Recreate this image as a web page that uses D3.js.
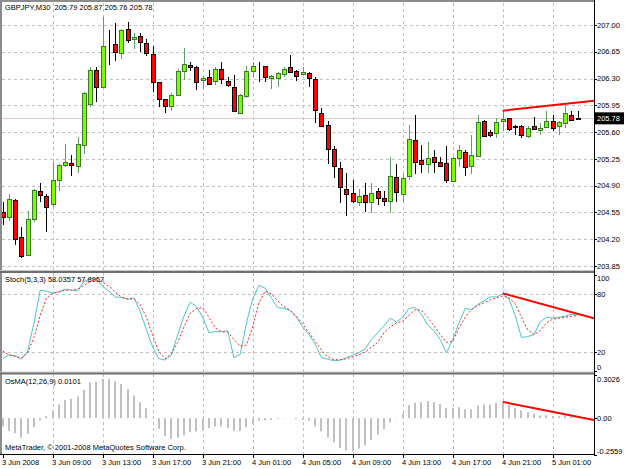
<!DOCTYPE html>
<html>
<head>
<meta charset="utf-8">
<script src="https://cdn.jsdelivr.net/npm/d3@7"></script>
<style>
body { margin: 0; background: #fff; }
svg { display: block; font-family: 'Liberation Sans', Arial, sans-serif; }
.grid { stroke: #c4c0c0; stroke-dasharray: 3,3; shape-rendering: crispEdges; }
.lbl { font-size: 7.5px; fill: #000; }
</style>
</head>
<body>
<div id="chart"></div>
<script>
'use strict';
// M30 bars, 3 Jun 2008 05:00 .. 5 Jun 2008 03:00
const barOpen = [204.56,204.49,204.71,204.23,204.00,204.46,204.83,204.77,204.66,204.98,205.17,205.20,205.15,205.43,205.97,206.41,206.19,206.70,206.75,206.64,206.95,206.82,206.86,206.77,206.62,206.25,206.03,205.95,206.09,206.40,206.48,206.45,206.28,206.32,206.26,206.42,206.27,206.19,205.85,206.07,206.40,206.45,206.46,206.30,206.31,206.37,206.45,206.40,206.36,206.37,206.29,205.85,205.69,205.38,205.13,204.86,204.81,204.69,204.78,204.69,204.83,204.74,204.70,205.01,204.79,205.03,205.50,205.24,205.18,205.27,205.21,205.19,204.96,205.25,205.34,205.15,205.29,205.75,205.60,205.58,205.74,205.78,205.67,205.68,205.56,205.68,205.64,205.66,205.75,205.68,205.72,205.83,205.79]
const barHigh = [204.69,204.79,204.73,204.36,204.57,204.85,204.94,204.79,205.21,205.18,205.45,205.30,205.54,206.12,206.45,206.45,207.10,206.94,207.02,206.95,207.04,206.89,206.89,206.82,206.72,206.25,206.03,206.11,206.42,206.70,206.51,206.46,206.33,206.41,206.45,206.51,206.32,206.35,206.10,206.46,206.52,206.51,206.46,206.35,206.39,206.45,206.61,206.41,206.45,206.38,206.32,205.92,205.74,205.42,205.21,205.07,204.98,204.85,204.93,204.93,204.87,204.83,205.27,205.18,205.05,205.69,205.82,205.43,205.47,205.36,205.27,205.42,205.28,205.43,205.37,205.56,205.82,205.76,205.63,205.78,205.89,205.79,205.69,205.69,205.68,205.80,205.72,205.88,205.82,205.74,205.95,205.88,205.87]
const barLow = [204.39,204.44,204.13,203.96,203.98,204.43,204.69,204.30,204.62,204.83,205.15,205.02,205.07,205.32,205.93,206.00,206.18,206.48,206.53,206.56,206.77,206.68,206.65,206.60,206.13,205.93,205.85,205.87,206.07,206.28,206.40,206.15,206.17,206.22,206.22,206.23,206.19,205.87,205.84,206.04,206.32,206.26,206.26,206.16,206.19,206.32,206.37,206.27,206.35,206.19,205.72,205.67,205.18,205.00,204.67,204.50,204.67,204.63,204.55,204.54,204.65,204.64,204.54,204.69,204.68,204.97,205.05,205.07,205.07,205.07,205.15,204.93,204.95,205.15,205.03,205.05,205.27,205.53,205.53,205.52,205.61,205.62,205.56,205.52,205.52,205.64,205.56,205.65,205.61,205.56,205.65,205.77,205.76]
const barClose = [204.50,204.72,204.20,203.98,204.47,204.84,204.78,204.63,204.97,205.17,205.21,205.17,205.44,206.11,206.41,206.19,206.73,206.70,206.65,206.94,206.81,206.84,206.78,206.64,206.26,206.03,205.94,206.09,206.40,206.49,206.45,206.26,206.31,206.23,206.42,206.29,206.22,205.88,206.08,206.40,206.47,206.45,206.32,206.33,206.37,206.43,206.39,206.34,206.38,206.30,205.88,205.68,205.38,205.16,204.88,204.80,204.70,204.77,204.69,204.81,204.74,204.70,205.03,204.82,205.00,205.51,205.21,205.19,205.26,205.20,205.16,204.97,205.26,205.36,205.15,205.30,205.73,205.56,205.56,205.73,205.77,205.63,205.68,205.56,205.66,205.64,205.66,205.74,205.66,205.73,205.85,205.77,205.78]
const stochMain = [13,17,16,12.5,21,50,84,83,81,82.5,85,84,83,93,96,95.5,88,83,77,76.5,74.5,76,62,43,25,13,11.7,17,38,57,71.5,67,56,40,41,41,42,14,17.6,50,75,89,86,76,66,65,63,56,46,38,28,14,12.5,11,11.5,14,16.5,19.5,23,33,40,47,55,51,56,65,66,59,48,42,33,19,33,50,65,64,69,73,77,77,80,75,58,35,36,38,51,56,55,56,57,59,58.0357]
const stochSignal = [21,17,15.5,14,19,35,58,76,80.5,82,84,84,85,89,93,94.5,92,88,82,77,75,75,69,56,37,20,13,18,30,46,60,65,66,56,45,41,40.5,33,26,27,46,71,83,80,73,67,63,57,49,40,31,22,15,12,12,13,15,17,20,25,30,40,46,50,52,58,64,63,56,47,38,30,31,45,56,64,68,71,74,76,78,76,70,56,43,38,42,50,54,55,56,57,57.8957]
const osmaValues = [-0.058,-0.091,-0.105,-0.137,-0.11,-0.063,-0.016,0.014,0.054,0.096,0.128,0.135,0.152,0.198,0.252,0.256,0.275,0.275,0.259,0.24,0.205,0.159,0.112,0.07,0.003,-0.075,-0.126,-0.145,-0.137,-0.121,-0.098,-0.093,-0.084,-0.07,-0.058,-0.058,-0.07,-0.089,-0.089,-0.065,-0.042,-0.019,-0.016,-0.012,-0.005,-0.002,-0.001,-0.007,-0.012,-0.019,-0.058,-0.093,-0.135,-0.17,-0.21,-0.226,-0.233,-0.214,-0.191,-0.152,-0.117,-0.077,-0.03,0.002,0.032,0.09,0.107,0.112,0.119,0.112,0.1,0.072,0.072,0.077,0.061,0.061,0.089,0.096,0.096,0.107,0.107,0.093,0.07,0.054,0.042,0.03,0.019,0.019,0.014,0.014,0.019,0.012,0.0101]
const priceTicks = ['207.00','206.65','206.30','205.95','205.60','205.25','204.90','204.55','204.20','203.85']
const stochTicks = ['100','80','20','0']
const stochLevels = [80, 20]
const osmaTicks = ['0.3026','0.00','-0.2559']
const timeTickBars = [0,8,16,24,32,40,48,56,64,72,80,88]
const timeTickLabels = ['3 Jun 2008','3 Jun 09:00','3 Jun 13:00','3 Jun 17:00','3 Jun 21:00','4 Jun 01:00','4 Jun 05:00','4 Jun 09:00','4 Jun 13:00','4 Jun 17:00','4 Jun 21:00','5 Jun 01:00']
const lastPrice = 205.78
// hand-drawn trend lines: [bar, value]
const priceTrend = [[80, 205.88], [94.6, 206.01]]
const stochTrend = [[80, 80.7], [94.6, 54.9]]
const osmaTrend = [[80, 0.114], [94.6, -0.014]]

const width = 625
const height = 469
const plotLeft = 2
const plotRight = 594
const main = { top: 3, bottom: 270 }
const stoch = { top: 273, bottom: 371.5 }
const osma = { top: 374, bottom: 455 }

const svg = d3.select('#chart').append('svg')
    .attr('width', width)
    .attr('height', height)

const x = d3.scaleLinear().domain([0, 92]).range([2.7, 577.7])
const yPrice = d3.scaleLinear().domain([203.85, 207.00]).range([266, 25])
const yStoch = d3.scaleLinear().domain([0, 100]).range([371.3, 274.7])
const yOsma = d3.scaleLinear().domain([-0.2559, 0.3026]).range([454.6, 375])
const px = v => Math.round(v) + 0.5
const last = barClose.length - 1

function addClip(id, p) {
    svg.append('clipPath').attr('id', id).append('rect')
        .attr('x', plotLeft).attr('y', p.top)
        .attr('width', plotRight - plotLeft).attr('height', p.bottom - p.top)
}
addClip('clipMain', main)
addClip('clipStoch', stoch)
addClip('clipOsma', osma)

// vertical dashed grid through all panels
const vgrid = svg.append('g')
;[main, stoch, osma].forEach(p => {
    vgrid.selectAll(null).data(timeTickBars.slice(1)).enter().append('line')
        .attr('class', 'grid')
        .attr('x1', d => px(x(d))).attr('x2', d => px(x(d)))
        .attr('y1', p.top).attr('y2', p.bottom)
})
// horizontal dashed grid
svg.append('g').selectAll('line').data(priceTicks).enter().append('line')
    .attr('class', 'grid')
    .attr('x1', plotLeft).attr('x2', plotRight)
    .attr('y1', d => px(yPrice(+d))).attr('y2', d => px(yPrice(+d)))
svg.append('g').selectAll('line').data(stochLevels).enter().append('line')
    .attr('class', 'grid')
    .attr('x1', plotLeft).attr('x2', plotRight)
    .attr('y1', d => px(yStoch(d))).attr('y2', d => px(yStoch(d)))

// bid line
svg.append('line')
    .attr('x1', plotLeft).attr('x2', plotRight)
    .attr('y1', px(yPrice(lastPrice))).attr('y2', px(yPrice(lastPrice)))
    .attr('stroke', '#e6c8c8')

// candles
const bars = d3.range(barOpen.length)
const isDoji = i => Math.abs(barClose[i] - barOpen[i]) < 0.015
const candles = svg.append('g').attr('clip-path', 'url(#clipMain)')
    .selectAll('g').data(bars).enter().append('g')
candles.append('line') // wick
    .attr('x1', i => px(x(i))).attr('x2', i => px(x(i)))
    .attr('y1', i => yPrice(barHigh[i])).attr('y2', i => yPrice(barLow[i]))
    .attr('stroke', i => barClose[i] > barOpen[i] && !isDoji(i) ? '#5f9f5f' : '#000')
    .attr('shape-rendering', 'crispEdges')
candles.append('rect') // body
    .attr('x', i => px(x(i)) - 2)
    .attr('width', 4)
    .attr('y', i => Math.round(yPrice(Math.max(barOpen[i], barClose[i]))) + 0.5)
    .attr('height', i => Math.max(0, Math.round(Math.abs(yPrice(barOpen[i]) - yPrice(barClose[i])))))
    .attr('fill', i => barClose[i] > barOpen[i] ? '#7cfc00' : '#ff0000')
    .attr('stroke', i => isDoji(i) ? '#000' : (barClose[i] > barOpen[i] ? '#3a7a2a' : '#000'))
    .attr('shape-rendering', 'crispEdges')

const trendLine = (yScale) => d3.line().x(d => x(d[0])).y(d => yScale(d[1]))
svg.append('path').datum(priceTrend) // price trend line
    .attr('clip-path', 'url(#clipMain)')
    .attr('fill', 'none').attr('stroke', '#ff0000').attr('stroke-width', 2)
    .attr('d', trendLine(yPrice))

// stochastic
const stochG = svg.append('g').attr('clip-path', 'url(#clipStoch)')
stochG.append('path').datum(stochMain) // %K
    .attr('fill', 'none').attr('stroke', '#4cc6c6').attr('stroke-width', 1)
    .attr('d', d3.line().x((d, i) => x(i)).y(d => yStoch(d)))
stochG.append('path').datum(stochSignal) // %D
    .attr('fill', 'none').attr('stroke', '#ff2020').attr('stroke-width', 1)
    .attr('stroke-dasharray', '2,2')
    .attr('d', d3.line().x((d, i) => x(i)).y(d => yStoch(d)))
stochG.append('path').datum(stochTrend)
    .attr('fill', 'none').attr('stroke', '#ff0000').attr('stroke-width', 2)
    .attr('d', trendLine(yStoch))

// OsMA histogram
const osmaG = svg.append('g').attr('clip-path', 'url(#clipOsma)')
osmaG.selectAll('rect').data(osmaValues).enter().append('rect')
    .attr('x', (d, i) => Math.round(x(i)) - 1)
    .attr('width', 2)
    .attr('y', d => Math.min(yOsma(d), yOsma(0)))
    .attr('height', d => Math.abs(yOsma(d) - yOsma(0)))
    .attr('fill', '#c0c0c0')
osmaG.append('path').datum(osmaTrend)
    .attr('fill', 'none').attr('stroke', '#ff0000').attr('stroke-width', 2)
    .attr('d', trendLine(yOsma))

// frame and panel separators
svg.append('rect').attr('x', 0).attr('y', 0).attr('width', 2).attr('height', osma.bottom).attr('fill', '#8c8c8c')
svg.append('rect').attr('x', 0).attr('y', 0).attr('width', plotRight).attr('height', 2).attr('fill', '#8c8c8c')
;[main.bottom, stoch.bottom].forEach(yy => {
    svg.append('rect').attr('x', 0).attr('y', yy).attr('width', plotRight).attr('height', 1).attr('fill', '#c8c8c8')
    svg.append('rect').attr('x', 0).attr('y', yy + 1).attr('width', plotRight).attr('height', 2).attr('fill', '#6e6e6e')
})
svg.append('line') // right axis
    .attr('x1', plotRight + 0.5).attr('x2', plotRight + 0.5)
    .attr('y1', 0).attr('y2', osma.bottom)
    .attr('stroke', '#000')
svg.append('line') // bottom axis
    .attr('x1', 0).attr('x2', plotRight + 1)
    .attr('y1', osma.bottom - 0.5).attr('y2', osma.bottom - 0.5)
    .attr('stroke', '#000')

// right axis labels
function rightLabels(ticks, yScale, p) {
    const g = svg.append('g')
    const yy = d => Math.max(p.top + 5, Math.min(p.bottom - 4, yScale(+d)))
    g.selectAll('line').data(ticks).enter().append('line')
        .attr('x1', plotRight).attr('x2', plotRight + 3)
        .attr('y1', d => px(yScale(+d))).attr('y2', d => px(yScale(+d)))
        .attr('stroke', '#000')
    g.selectAll('text').data(ticks).enter().append('text')
        .attr('class', 'lbl')
        .attr('x', plotRight + 3)
        .attr('y', yy)
        .attr('dy', '0.35em')
        .text(d => d)
}
rightLabels(priceTicks, yPrice, main)
rightLabels(stochTicks, yStoch, stoch)
rightLabels(osmaTicks, yOsma, osma)

// last price marker
svg.append('rect')
    .attr('x', plotRight + 1).attr('y', yPrice(lastPrice) - 6)
    .attr('width', 29).attr('height', 12)
    .attr('fill', '#000')
svg.append('text')
    .attr('class', 'lbl').style('fill', '#fff')
    .attr('x', plotRight + 3).attr('y', yPrice(lastPrice)).attr('dy', '0.35em')
    .text(lastPrice.toFixed(2))

// time axis
const tg = svg.append('g')
tg.selectAll('line').data(timeTickBars).enter().append('line')
    .attr('x1', d => px(x(d))).attr('x2', d => px(x(d)))
    .attr('y1', osma.bottom).attr('y2', osma.bottom + 3)
    .attr('stroke', '#000')
tg.selectAll('text').data(timeTickLabels).enter().append('text')
    .attr('class', 'lbl')
    .attr('x', (d, i) => Math.round(x(timeTickBars[i])) - 1)
    .attr('y', 465)
    .text(d => d)

// panel captions
svg.append('text').attr('class', 'lbl').attr('x', 5).attr('y', 10)
    .attr('xml:space', 'preserve')
    .text(`GBPJPY,M30  ${barOpen[last].toFixed(2)} ${barHigh[last].toFixed(2)} ${barLow[last].toFixed(2)} ${barClose[last].toFixed(2)}`)
svg.append('text').attr('class', 'lbl').attr('x', 5).attr('y', 282)
    .text(`Stoch(5,3,3) ${stochMain[last].toFixed(4)} ${stochSignal[last].toFixed(4)}`)
svg.append('text').attr('class', 'lbl').attr('x', 5).attr('y', 384)
    .text(`OsMA(12,26,9) ${osmaValues[last].toFixed(4)}`)
svg.append('text').attr('class', 'lbl').attr('x', 5).attr('y', 450)
    .text('MetaTrader, © 2001-2008 MetaQuotes Software Corp.')
</script>
</body>
</html>
